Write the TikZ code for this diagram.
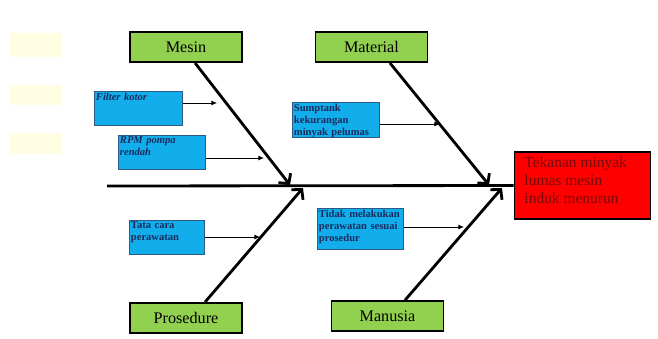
\documentclass[tikz,border=0pt]{standalone}
\usepackage{fontspec}
\setmainfont{Liberation Serif}
\usepackage{tikz}
\usetikzlibrary{arrows.meta, calc}

\definecolor{verde}{HTML}{92D050}
\definecolor{azul}{HTML}{12AEEC}
\definecolor{azulborda}{HTML}{2E5A87}
\definecolor{azultexto}{HTML}{1B2A5C}
\definecolor{vermelho}{HTML}{FF0000}
\definecolor{vermtexto}{HTML}{7A0A0A}
\definecolor{amarelo}{HTML}{FFFDE2}

% caixa azul com texto no topo
\newcommand{\caixa}[2]{\parbox[c][#1][t]{\linewidth}{\raggedright #2}}

\tikzset{
  categoria/.style={draw=black, line width=1.3pt, fill=verde, minimum width=2.8cm,
    minimum height=0.75cm, inner sep=0pt, font=\fontsize{11.5}{12}\selectfont},
  causa/.style={draw=azulborda, line width=0.4pt, fill=azul, anchor=north west,
    inner xsep=1.2pt, inner ysep=1pt, align=left, text=azultexto,
    font=\fontsize{7.5}{8.6}\selectfont\bfseries},
  osso/.style={line width=2pt, -{Straight Barb[length=5pt,width=11pt]}},
  seta/.style={line width=0.6pt, -{Latex[length=4pt,width=3.5pt]}},
}

\begin{document}
\begin{tikzpicture}[x=0.025cm, y=-0.025cm]
  \useasboundingbox (0,0) rectangle (658,338);

  % ---------- marcas claras na margem ----------
  \foreach \ya/\yb in {33/57, 85/105, 133/154}
    \fill[amarelo] (10,\ya) rectangle (61,\yb);

  % ---------- efeito ----------
  \node[draw=black, line width=1.3pt, fill=vermelho, minimum width=3.4cm,
        minimum height=1.675cm, inner xsep=7pt, inner ysep=0pt, text=vermtexto,
        font=\fontsize{11}{12.8}\selectfont]
    (efeito) at (582.5,185.5)
    {\parbox[c][1.45cm][t]{2.9cm}{Tekanan minyak\\lumas mesin\\induk menurun}};

  % ---------- categorias ----------
  \node[categoria] (mesin)    at (186,47)    {Mesin};
  \node[categoria] (material) at (371.5,47)  {Material};
  \node[categoria] (prosedur) at (186,318)   {Prosedure};
  \node[categoria] (manusia)  at (387.5,316) {Manusia};

  % ---------- espinha e ossos ----------
  \coordinate (cauda) at (107,186);
  \coordinate (pMesin) at (290,185);
  \coordinate (pMaterial) at (489,185);
  \coordinate (pProsedur) at (303,188);
  \coordinate (pManusia) at (502,188);

  \draw[line width=2pt] (cauda) -- (efeito.west);
  \draw[osso] ([xshift=0.225cm]mesin.south) -- (pMesin);
  \draw[osso] ([xshift=0.46cm]material.south) -- (pMaterial);
  \draw[osso] ([xshift=0.475cm]prosedur.north) -- (pProsedur);
  \draw[osso] ([xshift=0.44cm]manusia.north) -- (pManusia);

  % ---------- causas ----------
  \node[causa, text width=2.12cm] (filtro) at (94,91)
    {\caixa{0.78cm}{\itshape Filter kotor}};
  \node[causa, text width=2.09cm] (rpm) at (118,135)
    {\caixa{0.78cm}{\itshape RPM pompa\\rendah}};
  \node[causa, text width=2.09cm] (sump) at (292,102)
    {\caixa{0.8cm}{Sumptank\\kekurangan\\minyak pelumas}};
  \node[causa, text width=2.07cm] (tidak) at (317,208)
    {\caixa{0.95cm}{Tidak melakukan\\perawatan sesuai\\prosedur}};
  \node[causa, text width=1.79cm] (tata) at (129,220)
    {\caixa{0.78cm}{Tata cara\\perawatan}};

  \coordinate (aFiltro) at (217,103);
  \coordinate (aRpm) at (264,158);
  \coordinate (aSump) at (440,124);
  \coordinate (aTidak) at (464,227);
  \coordinate (aTata) at (260,237);

  \draw[seta] (aFiltro -| filtro.east) -- (aFiltro);
  \draw[seta] (aRpm -| rpm.east) -- (aRpm);
  \draw[seta] (aSump -| sump.east) -- (aSump);
  \draw[seta] (aTidak -| tidak.east) -- (aTidak);
  \draw[seta] (aTata -| tata.east) -- (aTata);

\end{tikzpicture}
\end{document}
